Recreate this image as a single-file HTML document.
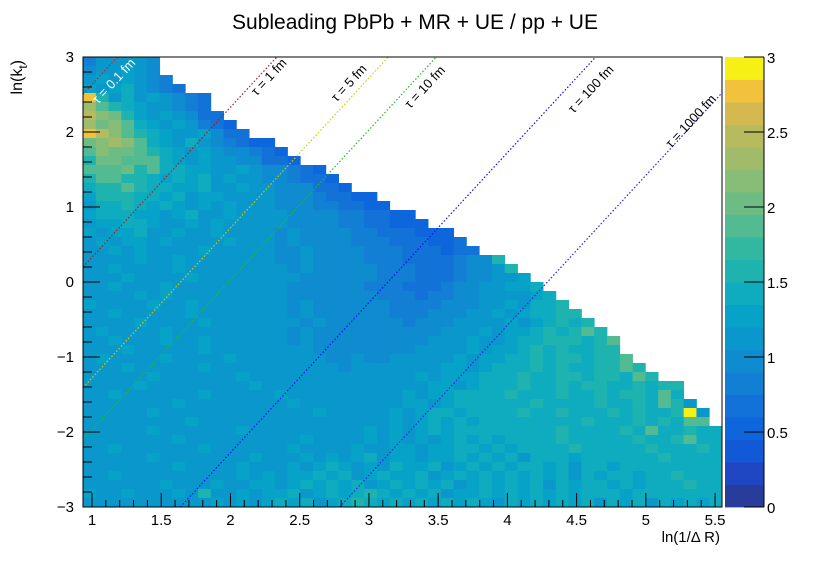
<!DOCTYPE html>
<html><head><meta charset="utf-8"><style>
body{margin:0;background:#fff;}
svg{display:block;font-family:"Liberation Sans",sans-serif;}
</style></head><body>
<svg id="chart" width="830" height="563" viewBox="0 0 830 563">
<rect width="830" height="563" fill="#fff"/>
<text x="415" y="29" font-size="21" text-anchor="middle">Subleading PbPb + MR + UE / pp + UE</text>
<g id="cells"></g>
<g id="taus"></g>
<rect x="83" y="57" width="639" height="450" fill="none" stroke="#000" stroke-width="1"/>
<g id="axes"></g>
<g id="palette"></g>
<text x="720" y="542" font-size="15" text-anchor="end">ln(1/Δ R)</text>
<text transform="translate(22,60) rotate(-90)" font-size="16" text-anchor="end">ln(k<tspan font-size="12" dy="5">t</tspan><tspan dy="-5">)</tspan></text>
</svg>
<script>
// ---- data ----
const xRange = [0.935, 5.55];
const yRange = [-3, 3];
const nBinsX = 50;
const nBinsY = 50;
const zMax = 3;
const nLevels = 20;
// each char = colour level code, rows top (ln kt = 3) to bottom; string length = filled bins
const rows = [
"588887","798a87","8a9a865","a9ab8754","ic9b9a8654","gdcba98754","hfeca9a8644","gefdba9a8543",
"ihfdcba98a644","efgfdba9b875433","dfeedcba9a976543","ceedddba9a8976443","dddecdbbaa98a876543",
"cddccbabab9a98765443","bccdcbbaab99a98766443","acccbbab9aa999877654433","9bbcbaba9a9a988776554433",
"abbbaa9ab99a98887766554433","9aabba99a9a9898877665544333","a9aab99a89a998878776655444333",
"8a9aa9a9898a988787766555444334","99a9a8998a989887787666555444344","8989a99a899898877876665554444567c",
"98a9899a9899898878776665554445678c","989a9899a8998988877766655544456789a","89a989a98998988877766655544456789aab",
"9898a9a8998989887777666555455678899ab","a9899a98a989898878777666555566789a9bbc","89a98998a98998887877666655566789a9abbcc",
"9898a9898a98989887876766656678899a9abcbc","8a9989a989898988787776666677889a9aabcbcdc","98a898a98a89898878776767677889a99abbcccbcd",
"898a98989a89898888777777778899a9aabcbcbbcc","9a8989a9898a98988887787788899a9aabbcbccbccd","898a98989a989898988878888999aa9abbbcbcbbccdc",
"98989a989898a9898988888899a9aaabbbcbbccbccbdc","8989a89898989a8989898889999aa9abbbcbbcbccbbcbcc","98a989898a89898a989898999a9aabbbbcbbbcbbcbccbdb",
"8989898a98989898a98989899aa9abbbbbbcbbbbcbbcbdc8","98989a898989898989a89899a9abbabbbbcbbcbbbcbcbbck8","89898989a898989898989899a9abababbbbbbbbcbbbcbcbdd",
["98989","a8989","89a98","98989","89a9a","9abab","bbbbb","bbcbb","bbcbd","bbcbb"].join(''),
["89898","98a98","98989","89a98","99a9a","9a9ab","ababb","bbcbb","bbbcb","bcdbb"].join(''),
["98a98","9898a","98989","8a989","9a99a","a9aab","babab","bbbcb","bbbbc","bbbcb"].join(''),
["89898","a9898","989a9","89a9a","9ab9a","a9aab","abab9","bbbab","bbbbb","cbbbb"].join(''),
["98989","89a98","98a98","9a9ab","a9a9b","aab9a","babab","bab9b","babbb","bbbbb"].join(''),
["89a98","98989","89a9a","9aaba","b9aba","ab9ab","ababa","bab9b","abbab","bcbbb"].join(''),
["98989","8a989","a98aa","9abab","ab9ab","abab9","ababa","b9bab","babab","bbcbb"].join(''),
["a98a9","89a9c","89a9a","ab9ab","abcba","bab9a","ababa","babab","bbabb","bbbbb"].join(''),
["89898","98989","a9a9a","bab9a","bcbab","ababa","ba9ba","babab","9bab8","babab"].join('')
];
// colour band (0..19, each 0.15 wide) for each level code
const codeBands = {"3":3,"4":4,"5":5,"6":6,"7":6,"8":7,"9":7,"a":8,"b":9,"c":10,"d":12,"e":13,"f":14,"g":15,"h":16,"i":18,"j":19,"k":19};
const tauValues = [0.1, 1, 5, 10, 100, 1000];
const tauLabels = ["τ = 0.1 fm","τ = 1 fm","τ = 5 fm","τ = 10 fm","τ = 100 fm","τ = 1000 fm"];
const xTickLabels = ["1","1.5","2","2.5","3","3.5","4","4.5","5","5.5"];
const yTickLabels = ["−3","−2","−1","0","1","2","3"];
const zTickLabels = ["0","0.5","1","1.5","2","2.5","3"];
// ---- styling ----
const bandColors = ["#283c9c","#1f47c4","#1259d8","#0e66dc","#1272d8","#137fd4","#0f8bd0","#0a98cc","#06a2c8","#0facbf",
"#1fb3b0","#32b8a0","#52bb91","#6cbc84","#87bd76","#a0bc6a","#b8ba5e","#d3b950","#f2c23c","#f6f014"];
const tauColors = ["#cc2222","#a02020","#cccc00","#22bb22","#1010ee","#2525dd"];
const tauLabelPos = [[117,84,"#fff"],[272,80,"#000"],[352,86,"#000"],[428,90,"#000"],[594,92,"#000"],[694,124,"#000"]];
const PX0=83, PX1=722, PY0=57, PY1=507;
const sx = v => PX0 + (v - xRange[0]) / (xRange[1]-xRange[0]) * (PX1-PX0);
const sy = v => PY1 - (v - yRange[0]) / (yRange[1]-yRange[0]) * (PY1-PY0);
const NS = "http://www.w3.org/2000/svg";
function mk(tag, attrs, parent){const e=document.createElementNS(NS,tag);for(const k in attrs)e.setAttribute(k,attrs[k]);parent.appendChild(e);return e;}
const bw = (xRange[1]-xRange[0])/nBinsX, bh=(yRange[1]-yRange[0])/nBinsY;
const cellsG = document.getElementById('cells');
rows.forEach((row, r) => {
  const y1 = yRange[1] - r*bh;
  for (let c = 0; c < Math.min(row.length, nBinsX); c++) {
    const band = codeBands[row[c]]; if (band === undefined) continue;
    const x0 = xRange[0] + c*bw;
    const rc = mk('rect', {x:sx(x0), y:sy(y1), width:sx(x0+bw)-sx(x0)+0.4, height:sy(y1-bh)-sy(y1)+0.4, fill:bandColors[band]}, cellsG);
    
    
  }
});
const tauG = document.getElementById('taus');
tauValues.forEach((t, i) => {
  const c = 1.67 + Math.log(t);
  let xa = xRange[0], ya = 2*xa - c;
  if (ya < yRange[0]) { ya = yRange[0]; xa = (ya + c)/2; }
  let xb = xRange[1], yb = 2*xb - c;
  if (yb > yRange[1]) { yb = yRange[1]; xb = (yb + c)/2; }
  const ln = mk('line', {x1:sx(xa), y1:sy(ya), x2:sx(xb), y2:sy(yb), stroke:tauColors[i], 'stroke-width':1.2, 'stroke-dasharray':'1.5,2'}, tauG);
  
  
  const p = tauLabelPos[i];
  const tx = mk('text', {x:p[0], y:p[1], fill:p[2], 'font-size':13, 'text-anchor':'middle', transform:`rotate(-47 ${p[0]} ${p[1]})`}, tauG);
  tx.textContent = tauLabels[i];
  
  
});
const ax = document.getElementById('axes');
for (let i = 0; i <= 46; i++) {
  const v = 1 + i*0.1; if (v > xRange[1]) break;
  const major = i % 5 === 0;
  mk('line', {x1:sx(v), x2:sx(v), y1:PY1, y2:PY1-(major?14:7), stroke:'#000'}, ax);
}
xTickLabels.forEach((l, i) => {
  const t = mk('text', {x:sx(1+i*0.5), y:525, 'font-size':15, 'text-anchor':'middle'}, ax);
  t.textContent = l;
  
  
});
for (let i = 0; i <= 30; i++) {
  const v = -3 + i*0.2, major = i % 5 === 0;
  mk('line', {x1:PX0, x2:PX0+(major?17:9), y1:sy(v), y2:sy(v), stroke:'#000'}, ax);
}
yTickLabels.forEach((l, i) => {
  const t = mk('text', {x:74, y:sy(-3+i)+5, 'font-size':15, 'text-anchor':'end'}, ax);
  t.textContent = l;
  
  
});
const pal = document.getElementById('palette');
const CX0=725, CX1=764;
const sz = v => PY1 - v/zMax*(PY1-PY0);
for (let b = 0; b < nLevels; b++) {
  const r = mk('rect', {x:CX0, y:sz((b+1)*zMax/nLevels), width:CX1-CX0, height:sz(b*zMax/nLevels)-sz((b+1)*zMax/nLevels)+0.4, fill:bandColors[b]}, pal);
  
  
}
mk('line', {x1:CX1, x2:CX1, y1:PY0, y2:PY1, stroke:'#000'}, pal);
zTickLabels.forEach((l, i) => {
  const v = i*0.5;
  mk('line', {x1:CX1-20, x2:CX1, y1:sz(v), y2:sz(v), stroke:'#000'}, pal);
  const t = mk('text', {x:767, y:sz(v)+6, 'font-size':15}, pal);
  t.textContent = l;
  
  
});
</script>
</body></html>
